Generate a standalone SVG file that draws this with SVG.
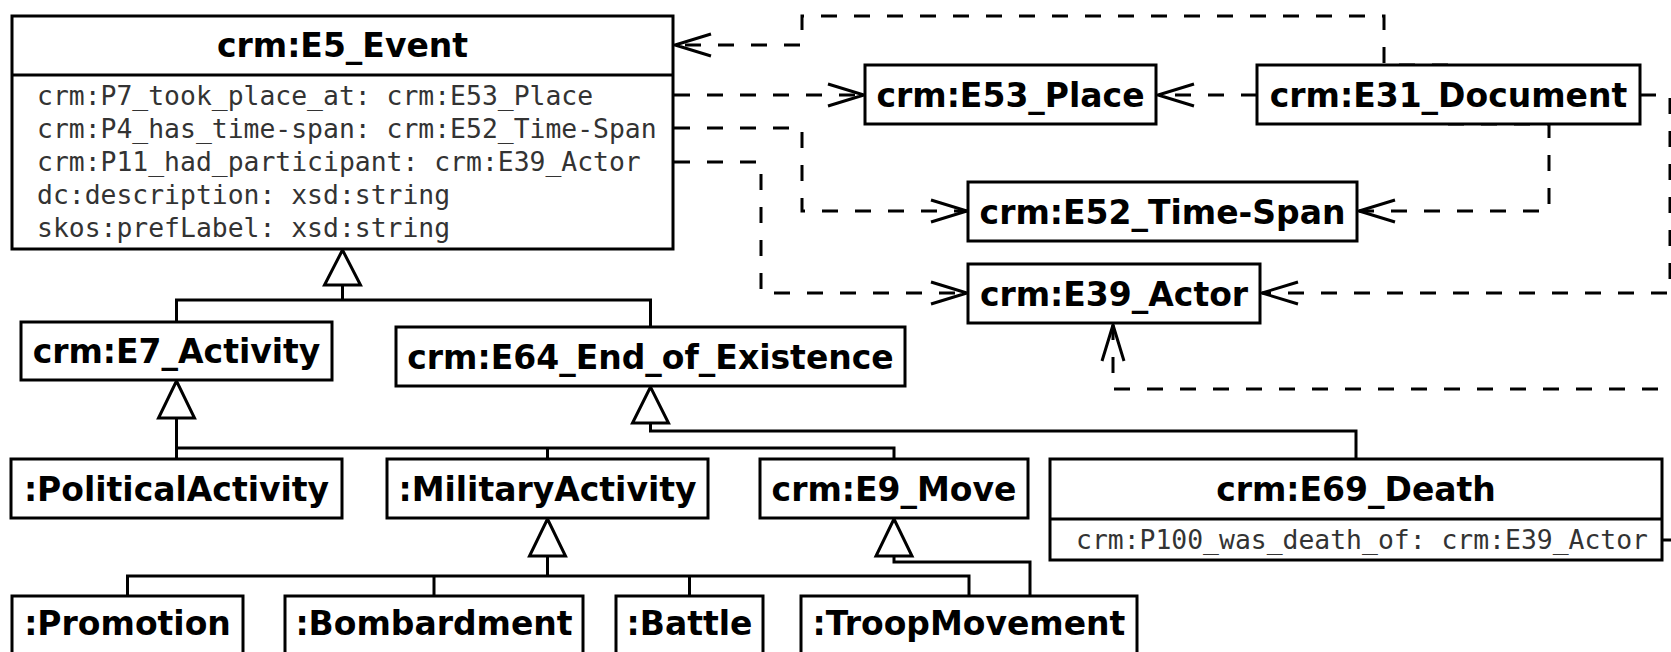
<svg xmlns="http://www.w3.org/2000/svg" width="1671" height="652" viewBox="0 0 1671 652">
<style>
.box{fill:#fff;stroke:#000;stroke-width:3}
.t{font-family:"DejaVu Sans",sans-serif;font-weight:bold;font-size:33px;fill:#000;text-anchor:middle}
.a{font-family:"DejaVu Sans Mono",monospace;font-size:26.4px;fill:#333}
.gen{fill:none;stroke:#000;stroke-width:3}
.tri{fill:#fff;stroke:#000;stroke-width:3}
.dep{fill:none;stroke:#000;stroke-width:3;stroke-dasharray:16 17}
</style>
<defs>
<marker id="vee" markerUnits="userSpaceOnUse" markerWidth="44" markerHeight="30" refX="37" refY="12" orient="auto" overflow="visible">
<path d="M1,1 L37,12 L1,23" fill="none" stroke="#000" stroke-width="3" stroke-dasharray="none"/>
</marker>
</defs>
<rect width="1671" height="652" fill="#fff"/>

<g id="connectors">
<!-- generalizations -->
<path class="gen" d="M342.5,285 V300 M176.5,322 V300 H650.5 V327"/>
<polygon class="tri" points="342.5,250 324.5,285 360.5,285"/>
<path class="gen" d="M176.5,418 V448 M176.5,459 V448 H894 V459 M547.5,448 V459"/>
<polygon class="tri" points="176.5,381 158.5,418 194.5,418"/>
<path class="gen" d="M650.5,423 V431 H1356 V459"/>
<polygon class="tri" points="650.5,387 632.5,423 668.5,423"/>
<path class="gen" d="M547.5,556 V576 M127.5,596 V576 H969 V596 M434,576 V596 M689.5,576 V596"/>
<polygon class="tri" points="547.5,519 529.5,556 565.5,556"/>
<path class="gen" d="M894,556 V562 H1030 V596"/>
<polygon class="tri" points="894,519 876,556 912,556"/>
<!-- dependencies -->
<path class="dep" marker-end="url(#vee)" d="M1448,65 H1384 V16 H802 V45 H675"/>
<path class="dep" marker-end="url(#vee)" d="M674,95 H864"/>
<path class="dep" marker-end="url(#vee)" d="M674,128 H802 V211 H967"/>
<path class="dep" marker-end="url(#vee)" d="M674,162 H761 V293 H967"/>
<path class="dep" marker-end="url(#vee)" d="M1257,95 H1158"/>
<path class="dep" marker-end="url(#vee)" d="M1448,124 H1549 V211 H1359"/>
<path class="dep" marker-end="url(#vee)" d="M1640,95 H1670 V293 H1262"/>
<path class="dep" marker-end="url(#vee)" d="M1662,540 H1700 V389 H1113 V325"/>
</g>

<g id="E5_Event">
<rect class="box" x="12" y="16" width="661" height="233"/>
<line x1="12" y1="75" x2="673" y2="75" stroke="#000" stroke-width="3"/>
<text class="t" x="342.5" y="57">crm:E5_Event</text>
<text class="a" x="37" y="105">crm:P7_took_place_at: crm:E53_Place</text>
<text class="a" x="37" y="138">crm:P4_has_time-span: crm:E52_Time-Span</text>
<text class="a" x="37" y="171">crm:P11_had_participant: crm:E39_Actor</text>
<text class="a" x="37" y="204">dc:description: xsd:string</text>
<text class="a" x="37" y="237">skos:prefLabel: xsd:string</text>
</g>
<g id="E53_Place">
<rect class="box" x="865" y="65" width="291" height="59"/>
<text class="t" x="1010.5" y="106.5">crm:E53_Place</text>
</g>
<g id="E31_Document">
<rect class="box" x="1257" y="65" width="383" height="59"/>
<text class="t" x="1448.5" y="106.5">crm:E31_Document</text>
</g>
<g id="E52_Time-Span">
<rect class="box" x="968" y="182" width="389" height="59"/>
<text class="t" x="1162.5" y="223.5">crm:E52_Time-Span</text>
</g>
<g id="E39_Actor">
<rect class="box" x="968" y="264" width="292" height="59"/>
<text class="t" x="1114" y="305.5">crm:E39_Actor</text>
</g>
<g id="E7_Activity">
<rect class="box" x="21" y="322" width="311" height="58"/>
<text class="t" x="176.5" y="363">crm:E7_Activity</text>
</g>
<g id="E64_End_of_Existence">
<rect class="box" x="396" y="327" width="509" height="59"/>
<text class="t" x="650.5" y="368.5">crm:E64_End_of_Existence</text>
</g>
<g id="PoliticalActivity">
<rect class="box" x="11" y="459" width="331" height="59"/>
<text class="t" x="176.5" y="500.5">:PoliticalActivity</text>
</g>
<g id="MilitaryActivity">
<rect class="box" x="387" y="459" width="321" height="59"/>
<text class="t" x="547.5" y="500.5">:MilitaryActivity</text>
</g>
<g id="E9_Move">
<rect class="box" x="760" y="459" width="268" height="59"/>
<text class="t" x="894" y="500.5">crm:E9_Move</text>
</g>
<g id="E69_Death">
<rect class="box" x="1050" y="459" width="612" height="101"/>
<line x1="1050" y1="519" x2="1662" y2="519" stroke="#000" stroke-width="3"/>
<text class="t" x="1356" y="501">crm:E69_Death</text>
<text class="a" x="1076" y="549">crm:P100_was_death_of: crm:E39_Actor</text>
</g>
<g id="Promotion">
<rect class="box" x="12" y="596" width="231" height="70"/>
<text class="t" x="127.5" y="635">:Promotion</text>
</g>
<g id="Bombardment">
<rect class="box" x="285" y="596" width="298" height="70"/>
<text class="t" x="434" y="635">:Bombardment</text>
</g>
<g id="Battle">
<rect class="box" x="616" y="596" width="147" height="70"/>
<text class="t" x="689.5" y="635">:Battle</text>
</g>
<g id="TroopMovement">
<rect class="box" x="801" y="596" width="336" height="70"/>
<text class="t" x="969" y="635">:TroopMovement</text>
</g>
</svg>
